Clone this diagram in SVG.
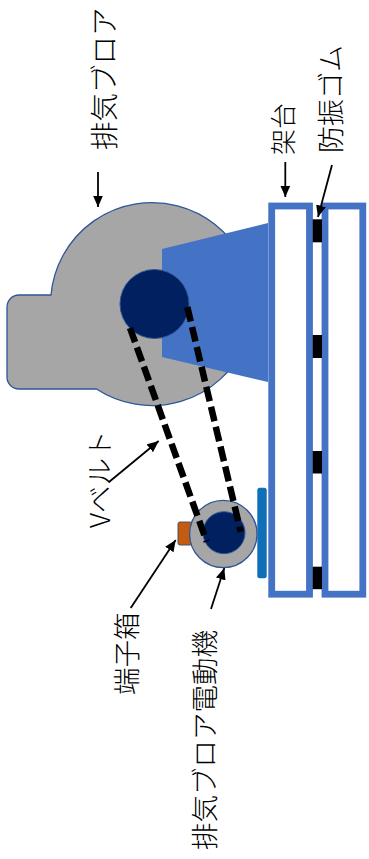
<svg xmlns="http://www.w3.org/2000/svg" width="369" height="859" viewBox="0 0 369 859">
<style>
text{font-family:"Noto Sans CJK JP","Liberation Sans",sans-serif;font-size:27.5px;font-weight:300;fill:#000}
.frame{fill:#fff;stroke:#4472c4;stroke-width:6.8}
.pad{fill:#000}
.belt{fill:none;stroke:#000;stroke-width:6.5;stroke-dasharray:15 5.5}
.arrow{fill:none;stroke:#000;stroke-width:1.8;marker-end:url(#ah)}
</style>
<defs><marker id="ah" markerUnits="userSpaceOnUse" markerWidth="13" markerHeight="11" refX="11.5" refY="5" orient="auto"><path d="M0 0L11.5 5L0 10Z" fill="#000"/></marker></defs>
<rect width="369" height="859" fill="#fff"/>
<g id="blower"><path d="M51 295A101.5 101.5 0 1 1 96.5 389H19A12 12 0 0 1 7 377V307A12 12 0 0 1 19 295Z" fill="#a6a6a6" stroke="#2f5597" stroke-width="1.3"/></g>
<g id="base"><path d="M162 249L268 223V382L162 357Z" fill="#4472c4"/></g>
<g id="pulley"><circle cx="154.5" cy="304" r="34.5" fill="#002060" stroke="#2f5597" stroke-width="1"/></g>
<g id="frame-upper"><rect class="frame" x="271.7" y="206" width="37.8" height="388.2"/></g>
<g id="frame-lower"><rect class="frame" x="325" y="206" width="37.8" height="388.2"/></g>
<g id="rubber">
<rect class="pad" x="312.7" y="219.3" width="9.3" height="23"/>
<rect class="pad" x="312.7" y="335" width="9.3" height="23"/>
<rect class="pad" x="312.7" y="451" width="9.3" height="22.5"/>
<rect class="pad" x="312.7" y="566.7" width="9.3" height="22.5"/>
</g>
<g id="motor-mount"><rect x="257.3" y="487.7" width="9.4" height="90.6" rx="2.5" fill="#0f70b7"/></g>
<g id="terminal-box"><rect x="178" y="522" width="14" height="23" rx="2" fill="#c55a11" stroke="#44546a" stroke-width="1"/></g>
<g id="motor">
<circle cx="223.3" cy="534" r="33.7" fill="#a6a6a6" stroke="#2f5597" stroke-width="1.3"/>
<circle cx="224" cy="532.7" r="21" fill="#002060" stroke="#2f5597" stroke-width="1"/>
</g>
<g id="connectors">
<path class="belt" d="M130 328L206.7 541.7"/>
<path class="belt" d="M187.3 307L240.7 531.7"/>
<path class="arrow" d="M98 172V207"/>
<path class="arrow" d="M285.3 162V197"/>
<path class="arrow" d="M332 165L318 217"/>
<path class="arrow" d="M109 482L158.7 441"/>
<path class="arrow" d="M130.7 608L175.7 540"/>
<path class="arrow" d="M211 609L224.3 568"/>
</g>
<g id="label-blower"><text transform="translate(115,150) rotate(-90)" style="font-size:28.5px">排気ブロア</text></g>
<g id="label-frame"><text transform="translate(293,155) rotate(-90)" style="font-size:26px">架台</text></g>
<g id="label-rubber"><text transform="translate(341,153) rotate(-90)" style="font-size:27px">防振ゴム</text></g>
<g id="label-belt"><text transform="translate(110,528) rotate(-90)">Vベルト</text></g>
<g id="label-terminal"><text transform="translate(137,695) rotate(-90)">端子箱</text></g>
<g id="label-motor"><text transform="translate(215,850) rotate(-90)">排気ブロア電動機</text></g>
</svg>
